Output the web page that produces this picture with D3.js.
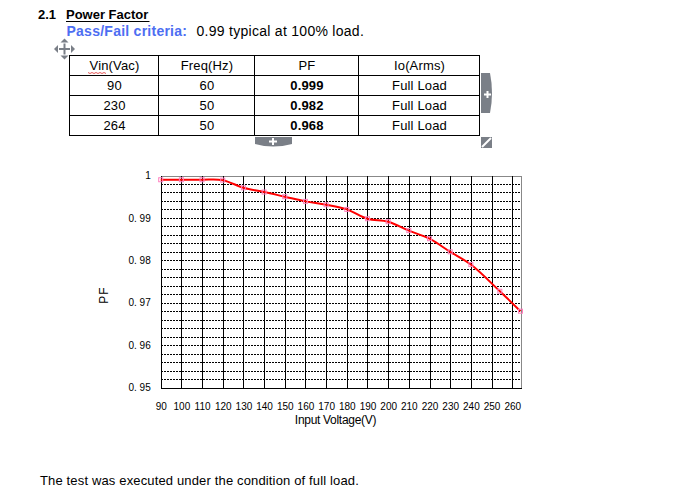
<!DOCTYPE html>
<html><head><meta charset="utf-8">
<script src="https://cdn.jsdelivr.net/npm/d3@7"></script>
<style>
html,body{margin:0;padding:0;background:#fff;}
svg{display:block;font-family:"Liberation Sans",Arial,sans-serif;}
</style></head>
<body>
<svg id="c" width="697" height="504"></svg>
<script>
// ---- data ----
const voltages = [90,100,110,120,130,140,150,160,170,180,190,200,210,220,230,240,254,264];
const pfValues = [0.9990,0.9990,0.9990,0.9989,0.9971,0.9961,0.9950,0.9939,0.9931,0.9920,0.9898,0.9891,0.9870,0.9851,0.9820,0.9790,0.9727,0.9680];
const xTicks = [90,100,110,120,130,140,150,160,170,180,190,200,210,220,230,240,250,260];
const yTicks = [1,0.99,0.98,0.97,0.96,0.95];
const yTickLabels = ["1","0. 99","0. 98","0. 97","0. 96","0. 95"];
const yMinor = [0.952,0.954,0.956,0.958,0.96,0.962,0.964,0.966,0.968,0.97,0.972,0.974,0.976,0.978,0.98,0.982,0.984,0.986,0.988,0.99,0.992,0.994,0.996,0.998];
const tableHeader = ["Vin(Vac)","Freq(Hz)","PF","Io(Arms)"];
const tableVin = ["90","230","264"];
const tableFreq = ["60","50","50"];
const tablePF = ["0.999","0.982","0.968"];
const tableIo = ["Full Load","Full Load","Full Load"];

const svg = d3.select("#c");

// ---- heading ----
svg.append("text").attr("x",38).attr("y",19).attr("font-size",13).attr("font-weight","bold").text("2.1");
svg.append("text").attr("x",66).attr("y",19).attr("font-size",13).attr("font-weight","bold").text("Power Factor");
svg.append("line").attr("x1",66).attr("x2",149.5).attr("y1",21.5).attr("y2",21.5).attr("stroke","#000").attr("stroke-width",1);
svg.append("text").attr("x",66.5).attr("y",35.5).attr("font-size",14).attr("font-weight","bold").attr("letter-spacing",0.25).attr("fill","#4d6ef2").text("Pass/Fail criteria:");
svg.append("text").attr("x",196.5).attr("y",35.5).attr("font-size",14).attr("letter-spacing",0.28).attr("fill","#000").text("0.99 typical at 100% load.");

// ---- table ----
const colEdges = [69,158,254,358,479];
const rowEdges = [55,75,95,115,135];
const tg = svg.append("g").attr("shape-rendering","crispEdges");
tg.append("rect").attr("x",colEdges[0]+0.5).attr("y",rowEdges[0]+0.5)
  .attr("width",colEdges[4]-colEdges[0]).attr("height",rowEdges[4]-rowEdges[0])
  .attr("fill","none").attr("stroke","#000");
colEdges.slice(1,4).forEach(c=>tg.append("line").attr("x1",c+0.5).attr("x2",c+0.5).attr("y1",rowEdges[0]).attr("y2",rowEdges[4]).attr("stroke","#000"));
rowEdges.slice(1,4).forEach(r=>tg.append("line").attr("y1",r+0.5).attr("y2",r+0.5).attr("x1",colEdges[0]).attr("x2",colEdges[4]).attr("stroke","#000"));
const rows = [tableHeader].concat(tableVin.map((v,i)=>[v,tableFreq[i],tablePF[i],tableIo[i]]));
rows.forEach((row,ri)=>{
  row.forEach((cell,ci)=>{
    svg.append("text")
      .attr("x",(colEdges[ci]+colEdges[ci+1])/2+1)
      .attr("y",rowEdges[ri]+15)
      .attr("text-anchor","middle").attr("font-size",13).attr("letter-spacing",0.15)
      .attr("font-weight",(ri>0&&ci===2)?"bold":"normal")
      .text(cell);
  });
});
// spell-check squiggle under "Vin"
svg.append("path").attr("d",d3.range(88,108,2).map((x,i)=>(i?"L":"M")+x+","+(i%2?73.5:72.5)).join(""))
  .attr("fill","none").attr("stroke","#e03030").attr("stroke-width",0.8);

// ---- table UI decorations ----
const ig = svg.append("g").attr("fill","#7a7f87");
// move handle
[[64.5,42.5,0],[64.5,55.5,180],[58,49,270],[71,49,90]].forEach(([x,y,r])=>{
  ig.append("path").attr("d","M0,-4L4,0L-4,0Z").attr("transform",`translate(${x},${y}) rotate(${r})`);
});
ig.append("rect").attr("x",59).attr("y",48).attr("width",11).attr("height",2);
ig.append("rect").attr("x",63.5).attr("y",43.5).attr("width",2).attr("height",11);
// right tab
ig.append("path").attr("d","M481,73L490,73Q494,93 490,113L481,113Z");
svg.append("path").attr("d","M484,94.5h7M487.5,91v7").attr("stroke","#fff").attr("stroke-width",2);
// bottom tab
ig.append("path").attr("d","M255,137L292,137L292,144Q273,149 255,144Z");
svg.append("path").attr("d","M269,141.5h8M273,138v7").attr("stroke","#fff").attr("stroke-width",2);
// resize
ig.append("rect").attr("x",481).attr("y",137).attr("width",11).attr("height",11);
svg.append("path").attr("d","M482,147L491,138").attr("stroke","#fff").attr("stroke-width",2);

// ---- chart ----
const x = d3.scaleLinear().domain([90,264]).range([160.7,520.5]);
const y = d3.scaleLinear().domain([0.95,1]).range([387.5,175.5]);
const cg = svg.append("g");

// horizontal dotted grid
cg.append("g").selectAll("line").data(yMinor).join("line")
  .attr("x1",x(90)).attr("x2",x(264))
  .attr("y1",d=>Math.round(y(d))+0.5).attr("y2",d=>Math.round(y(d))+0.5)
  .attr("stroke","#000").attr("stroke-dasharray","2,1").attr("shape-rendering","crispEdges");
// top and right border
cg.append("line").attr("x1",x(90)).attr("x2",x(264)+0.5).attr("y1",Math.round(y(1))+0.5).attr("y2",Math.round(y(1))+0.5)
  .attr("stroke","#888").attr("shape-rendering","crispEdges");
cg.append("line").attr("x1",Math.round(x(264))+0.5).attr("x2",Math.round(x(264))+0.5).attr("y1",y(1)).attr("y2",y(0.95))
  .attr("stroke","#888").attr("shape-rendering","crispEdges");
// vertical grid lines
cg.append("g").selectAll("line").data(xTicks).join("line")
  .attr("x1",d=>Math.round(x(d))+0.5).attr("x2",d=>Math.round(x(d))+0.5)
  .attr("y1",y(1)).attr("y2",y(0.95))
  .attr("stroke","#000").attr("shape-rendering","crispEdges");
// bottom axis line
cg.append("line").attr("x1",x(90)).attr("x2",x(264)+1).attr("y1",Math.round(y(0.95))+0.5).attr("y2",Math.round(y(0.95))+0.5)
  .attr("stroke","#000").attr("shape-rendering","crispEdges");

// axes labels via d3 axes (no tick lines)
const xAxis = cg.append("g").attr("transform",`translate(0,${y(0.95)})`)
  .call(d3.axisBottom(x).tickValues(xTicks).tickSize(0).tickPadding(15).tickFormat(d3.format("d")));
xAxis.select(".domain").remove();
xAxis.selectAll("text").attr("font-size",10).attr("font-family","'Liberation Sans',Arial,sans-serif").attr("fill","#000");

const yAxis = cg.append("g").attr("transform",`translate(${x(90)},0)`)
  .call(d3.axisLeft(y).tickValues(yTicks).tickSize(0).tickPadding(10).tickFormat((d,i)=>yTickLabels[i]));
yAxis.select(".domain").remove();
yAxis.selectAll("text").attr("font-size",10).attr("font-family","'Liberation Sans',Arial,sans-serif").attr("fill","#000");

// axis titles
svg.append("text").attr("x",335.5).attr("y",424).attr("text-anchor","middle").attr("font-size",12)
  .attr("letter-spacing","-0.3").text("Input Voltage(V)");
svg.append("text").attr("transform","translate(107.5,295) rotate(-90)").attr("text-anchor","middle")
  .attr("font-size",12).attr("letter-spacing",1).text("PF");

// line
const pts = voltages.map((v,i)=>[v,pfValues[i]]);
cg.append("path").datum(pts)
  .attr("d",d3.line().x(d=>x(d[0])).y(d=>y(d[1])).curve(d3.curveCatmullRom.alpha(0.5)))
  .attr("fill","none").attr("stroke","#ff0000").attr("stroke-width",2);
// markers
cg.append("g").selectAll("rect").data(pts).join("rect")
  .attr("x",d=>x(d[0])-2).attr("y",d=>y(d[1])-2).attr("width",4).attr("height",4)
  .attr("fill","none").attr("stroke","#ff7fbf").attr("stroke-width",1);

// footer
svg.append("text").attr("x",40).attr("y",485).attr("font-size",13).attr("letter-spacing",0.15).text("The test was executed under the condition of full load.");
</script>
</body></html>
